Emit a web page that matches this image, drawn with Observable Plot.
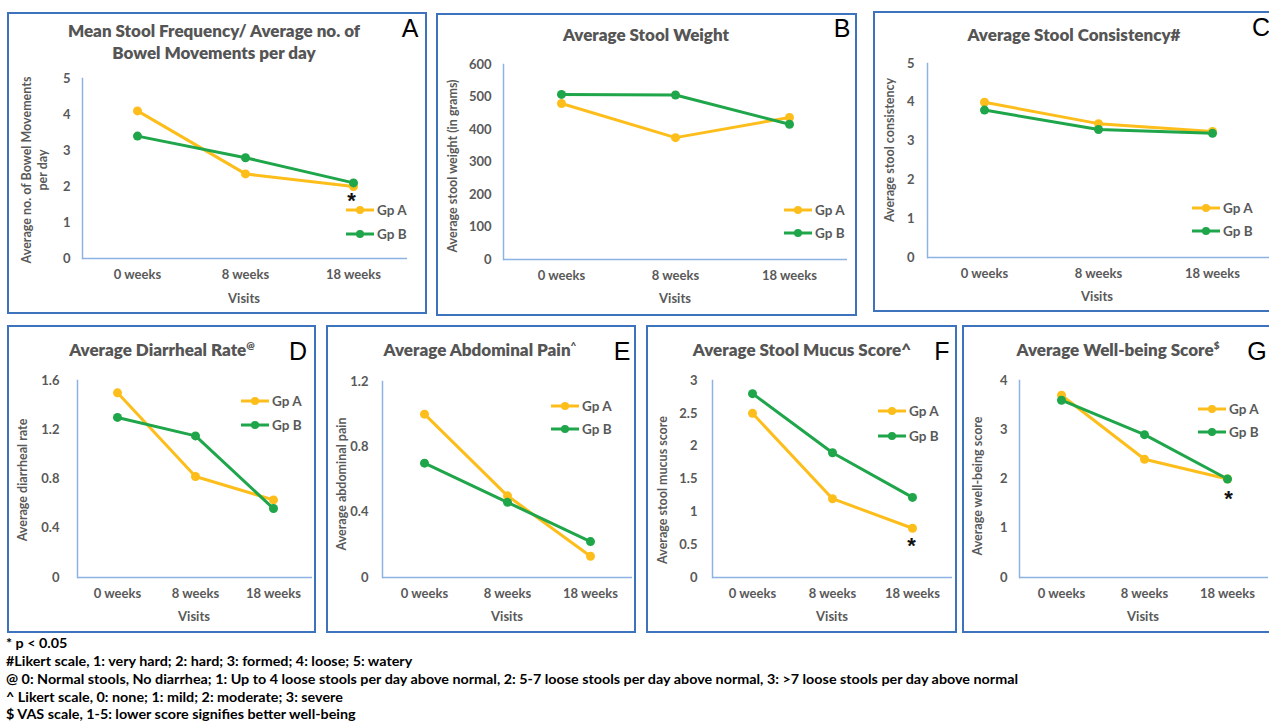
<!DOCTYPE html>
<html><head><meta charset="utf-8">
<script src="https://cdn.jsdelivr.net/npm/d3@7"></script>
<script src="https://cdn.jsdelivr.net/npm/@observablehq/plot@0.6"></script>
<style>
html,body{margin:0;padding:0;width:1269px;height:722px;overflow:hidden;background:#fff;}
#root{position:relative;width:1269px;height:722px;overflow:hidden;font-family:Lato,"Open Sans",sans-serif;}
.panel{position:absolute;border:2px solid #3d73bd;box-sizing:border-box;}
.abs{position:absolute;white-space:nowrap;}
.title{font-weight:800;color:#555;font-size:17px;transform:translate(-50%,-50%);text-align:center;line-height:22px;}
.title sup{font-size:10px;vertical-align:7px;line-height:0;}
.letter{font-family:"Liberation Sans",Arial,sans-serif;font-size:25px;color:#000;transform:translate(-50%,-50%);line-height:1;}
.ylab{font-weight:bold;color:#595959;font-size:12.5px;transform:translate(-50%,-50%) rotate(-90deg);text-align:center;line-height:16px;}
.xlab{font-weight:bold;color:#595959;font-size:13px;transform:translate(-50%,-50%);}
.leg{font-weight:bold;color:#595959;font-size:13.5px;transform:translateY(-50%);display:flex;align-items:center;}
.leg svg{margin-right:2px;}
.foot{font-weight:bold;font-size:14px;line-height:13px;color:#000;left:6px;transform-origin:0 50%;transform:translateY(-50%);}
svg.plot{position:absolute;}
</style></head>
<body><div id="root"></div>
<script>
// ---------- data ----------
const visits = ["0 weeks", "8 weeks", "18 weeks"];
const groups = ["Gp A", "Gp B"];
const groupColors = ["#FDBE1C", "#1FA54A"];

const freqA = [4.1, 2.35, 2.0];
const freqB = [3.4, 2.8, 2.1];
const weightA = [480, 375, 437];
const weightB = [508, 506, 416];
const consA = [4.0, 3.45, 3.25];
const consB = [3.8, 3.3, 3.2];
const diarrA = [1.5, 0.82, 0.63];
const diarrB = [1.3, 1.15, 0.56];
const painA = [1.0, 0.5, 0.13];
const painB = [0.7, 0.46, 0.22];
const mucusA = [2.5, 1.2, 0.75];
const mucusB = [2.8, 1.9, 1.22];
const wellA = [3.7, 2.4, 2.0];
const wellB = [3.6, 2.9, 2.0];

const freqTicks = [0, 1, 2, 3, 4, 5];
const weightTicks = [0, 100, 200, 300, 400, 500, 600];
const consTicks = [0, 1, 2, 3, 4, 5];
const diarrTicks = [0, 0.4, 0.8, 1.2, 1.6];
const painTicks = [0, 0.4, 0.8, 1.2];
const mucusTicks = [0, 0.5, 1, 1.5, 2, 2.5, 3];
const wellTicks = [0, 1, 2, 3, 4];

// significance markers (placed under Gp A value at that visit)
const freqSig = [null, null, "*"];
const mucusSig = [null, null, "*"];
const wellSig = [null, null, "*"];

const titles = {
  A: "Mean Stool Frequency/ Average no. of<br>Bowel Movements per day",
  B: "Average Stool Weight",
  C: "Average Stool Consistency#",
  D: "Average Diarrheal Rate<sup>@</sup>",
  E: "Average Abdominal Pain<sup>^</sup>",
  F: "Average Stool Mucus Score^",
  G: "Average Well-being Score<sup>$</sup>"
};
const yLabels = {
  A: "Average no. of Bowel Movements<br>per day",
  B: "Average stool weight (in grams)",
  C: "Average stool consistency",
  D: "Average diarrheal rate",
  E: "Average abdominal pain",
  F: "Average stool mucus score",
  G: "Average well-being score"
};
const xLabel = "Visits";
const footnotes = [
  "* p < 0.05",
  "#Likert scale, 1: very hard; 2: hard; 3: formed; 4: loose; 5: watery",
  "@ 0: Normal stools, No diarrhea; 1: Up to 4 loose stools per day above normal, 2: 5-7 loose stools per day above normal, 3: >7 loose stools per day above normal",
  "^ Likert scale, 0: none; 1: mild; 2: moderate; 3: severe",
  "$ VAS scale, 1-5: lower score signifies better well-being"
];

// ---------- layout (page pixels) ----------
const layout = {
  A: {box:[7,12,420,302], frame:[82,407,78,258], tickPad:12, title:[214,42], letter:[410,28], ylab:[35,170], xlab:[244,298], legend:[345,210,234], sigDy:14, sigDx:-2},
  B: {box:[436,13,421,303], frame:[503,847,64,259], tickPad:12, title:[646,35], letter:[842,28], ylab:[453,166], xlab:[675,298], legend:[783,210,233]},
  C: {box:[873,11,420,301], frame:[927,1269,63,257], tickPad:13, title:[1074,35], letter:[1261,27], ylab:[890,150], xlab:[1097,296], legend:[1191,208,231]},
  D: {box:[7,325,309,308], frame:[77,312,380,577], tickPad:18, title:[162,350], letter:[298,351], ylab:[23,480], xlab:[194,616], legend:[240,401,425]},
  E: {box:[326,325,310,308], frame:[382,632,381,577], tickPad:14, title:[480,350], letter:[622,351], ylab:[342,484], xlab:[507,616], legend:[550,406,429]},
  F: {box:[646,325,311,308], frame:[712,952,380,577], tickPad:15, title:[802,350], letter:[942,351], ylab:[663,490], xlab:[832,616], legend:[877,411,436], sigDy:17.5, sigDx:-1},
  G: {box:[962,325,330,308], frame:[1019,1268,380,577], tickPad:12, title:[1118,350], letter:[1257,351], ylab:[978,486], xlab:[1143,616], legend:[1197,409,432], sigDy:19.5, sigDx:1}
};

const panels = [
  {id:"A", a:freqA, b:freqB, ticks:freqTicks, sig:freqSig},
  {id:"B", a:weightA, b:weightB, ticks:weightTicks},
  {id:"C", a:consA, b:consB, ticks:consTicks},
  {id:"D", a:diarrA, b:diarrB, ticks:diarrTicks},
  {id:"E", a:painA, b:painB, ticks:painTicks},
  {id:"F", a:mucusA, b:mucusB, ticks:mucusTicks, sig:mucusSig},
  {id:"G", a:wellA, b:wellB, ticks:wellTicks, sig:wellSig}
];

const root = document.getElementById("root");
const axisColor = "#8db3e2";
const textGrey = "#595959";

function addDiv(cls, x, y, html) {
  const d = document.createElement("div");
  d.className = "abs " + cls;
  d.style.left = x + "px";
  d.style.top = y + "px";
  d.innerHTML = html;
  root.appendChild(d);
  return d;
}

function legendSwatch(color) {
  return `<svg width="30" height="10"><line x1="1" y1="5" x2="29" y2="5" stroke="${color}" stroke-width="3"/><circle cx="15" cy="5" r="4" fill="${color}"/></svg>`;
}

for (const p of panels) {
  const L = layout[p.id];
  const [bl, bt, bw, bh] = L.box;
  const [x0, x1, y0, y1] = L.frame;

  const frameDiv = document.createElement("div");
  frameDiv.className = "panel";
  Object.assign(frameDiv.style, {left: bl + "px", top: bt + "px", width: bw + "px", height: bh + "px"});
  root.appendChild(frameDiv);

  const rows = [];
  groups.forEach((g, gi) => {
    const vals = gi === 0 ? p.a : p.b;
    visits.forEach((v, i) => rows.push({visit: v, group: g, value: vals[i]}));
  });
  const sigRows = p.sig ? visits.map((v, i) => ({visit: v, value: p.a[i], sig: p.sig[i]})).filter(d => d.sig) : [];

  const chart = Plot.plot({
    width: bw, height: bh,
    marginLeft: x0 - bl, marginRight: bl + bw - x1,
    marginTop: y0 - bt, marginBottom: bt + bh - y1,
    x: {type: "point", domain: visits, padding: 0.5},
    y: {domain: [0, p.ticks[p.ticks.length - 1]]},
    color: {domain: groups, range: groupColors},
    style: {fontFamily: "Lato, 'Open Sans', sans-serif", fontSize: "13px", fontWeight: "bold", color: textGrey, background: "transparent", overflow: "visible"},
    marks: [
      Plot.axisX({tickSize: 0, tickPadding: 11, label: null}),
      Plot.axisY({ticks: p.ticks, tickSize: 0, tickPadding: L.tickPad, tickFormat: d => String(d), label: null}),
      Plot.ruleY([0], {stroke: axisColor, strokeWidth: 1.5}),
      Plot.frame({anchor: "left", stroke: axisColor, strokeWidth: 1.5}),
      Plot.line(rows, {x: "visit", y: "value", z: "group", stroke: "group", strokeWidth: 3}),
      Plot.dot(rows, {x: "visit", y: "value", fill: "group", r: 4.5}),
      Plot.text(sigRows, {x: "visit", y: "value", text: "sig", dy: L.sigDy || 16, dx: L.sigDx || 0, fontSize: 22, fontFamily: "'Liberation Sans', Arial, sans-serif", fontWeight: "bold", fill: "#111", lineAnchor: "middle"})
    ]
  });
  chart.classList.add("plot");
  chart.style.left = bl + "px";
  chart.style.top = bt + "px";
  root.appendChild(chart);

  addDiv("title", L.title[0], L.title[1], titles[p.id]);
  addDiv("letter", L.letter[0], L.letter[1], p.id);
  addDiv("ylab", L.ylab[0], L.ylab[1], yLabels[p.id]);
  addDiv("xlab", L.xlab[0], L.xlab[1], xLabel);
  groups.forEach((g, gi) => {
    addDiv("leg", L.legend[0], L.legend[1 + gi], legendSwatch(groupColors[gi]) + g);
  });
}

// footnotes
const footY = [642, 660, 678, 696, 713];
const footDivs = footnotes.map((t, i) => addDiv("foot", 6, footY[i], t.replace(/&/g,"&amp;").replace(/</g,"&lt;").replace(/>/g,"&gt;")));
const targetW = 1012; // width of the longest line in the reference
const sx = targetW / footDivs[2].getBoundingClientRect().width;
footDivs.forEach(d => d.style.transform = `translateY(-50%) scaleX(${sx})`);
</script>
</body></html>
